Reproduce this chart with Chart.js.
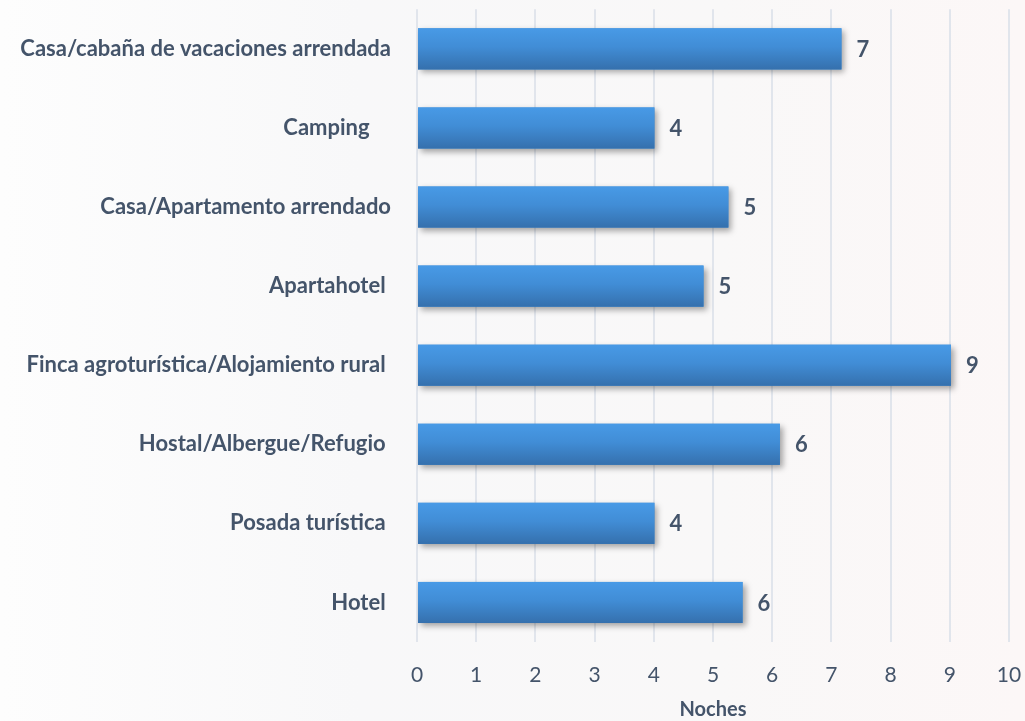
<!DOCTYPE html>
<html>
<head>
<meta charset="utf-8">
<script src="https://cdn.jsdelivr.net/npm/chart.js@4/dist/chart.umd.min.js"></script>
<style>
    html, body { margin: 0; padding: 0; }
    body {
        width: 1025px; height: 721px; overflow: hidden;
        background: linear-gradient(90deg, #fdfdfd 0%, #f8f8f9 35%, #f9f8f8 70%, #fcf7f7 100%);
    }
    #wrap { width: 1025px; height: 721px; position: relative; }
</style>
</head>
<body>
<div id="wrap"><canvas id="nochesChart"></canvas></div>
<script>
const categories = [
    'Casa/cabaña de vacaciones arrendada',
    'Camping    ',
    'Casa/Apartamento arrendado',
    'Apartahotel ',
    'Finca agroturística/Alojamiento rural ',
    'Hostal/Albergue/Refugio ',
    'Posada turística ',
    'Hotel '
];
const nights = [7.17, 4.01, 5.26, 4.84, 9.02, 6.13, 4.01, 5.5];
const xTicks = [0, 1, 2, 3, 4, 5, 6, 7, 8, 9, 10];
const xTitle = 'Noches';

const textColor = '#44546a';
const fontFamily = 'Lato, "Open Sans", sans-serif';

// shadow + vertical gradient on each bar, then the rounded value label
const barStyle = {
    id: 'barStyle',
    beforeDatasetDraw(chart) {
        const ctx = chart.ctx;
        ctx.save();
        ctx.shadowColor = 'rgba(0,0,0,0.35)';
        ctx.shadowBlur = 6;
        ctx.shadowOffsetX = 3;
        ctx.shadowOffsetY = 3;
    },
    afterDatasetDraw(chart) {
        const ctx = chart.ctx;
        ctx.restore();
        const meta = chart.getDatasetMeta(0);
        meta.data.forEach((bar, i) => {
            const top = bar.y - bar.height / 2;
            const g = ctx.createLinearGradient(0, top, 0, top + bar.height);
            g.addColorStop(0, '#489ae6');
            g.addColorStop(0.45, '#418dd6');
            g.addColorStop(1, '#3570ad');
            ctx.fillStyle = g;
            ctx.fillRect(bar.base, top, bar.x - bar.base, bar.height);

            ctx.fillStyle = textColor;
            ctx.font = 'bold 22px ' + fontFamily;
            ctx.textAlign = 'left';
            ctx.textBaseline = 'middle';
            ctx.fillText(String(Math.round(nights[i])), bar.x + 15, bar.y + 1);
        });
    }
};

new Chart(document.getElementById('nochesChart'), {
    type: 'bar',
    data: {
        labels: categories,
        datasets: [{
            data: nights,
            backgroundColor: '#418dd6',
            borderWidth: 0,
            barPercentage: 0.52,
            categoryPercentage: 1.0
        }]
    },
    options: {
        indexAxis: 'y',
        responsive: true,
        maintainAspectRatio: false,
        animation: false,
        layout: { padding: { top: 0, right: 16, left: 0, bottom: 0 } },
        plugins: {
            legend: { display: false },
            tooltip: { enabled: false }
        },
        scales: {
            x: {
                min: 0,
                max: 10,
                afterBuildTicks: (scale) => {
                    scale.ticks = xTicks.map(v => ({ value: v }));
                },
                afterFit: (scale) => { scale.height = 79; },
                border: { display: false },
                // tick marks kept invisible, only used to push the labels down
                grid: { color: '#e1e5ec', lineWidth: 2, drawTicks: true, tickLength: 21, tickColor: 'rgba(0,0,0,0)' },
                ticks: {
                    color: textColor,
                    font: { family: fontFamily, size: 21 },
                    padding: 0
                },
                title: {
                    display: true,
                    text: xTitle,
                    color: textColor,
                    font: { family: fontFamily, size: 20, weight: 'bold', lineHeight: 1.0 },
                    padding: { top: 0, bottom: 1 }
                }
            },
            y: {
                afterFit: (scale) => { scale.width = 417; },
                border: { display: false },
                grid: { color: 'rgba(0,0,0,0)', drawOnChartArea: false, drawTicks: true, tickLength: 26, tickColor: 'rgba(0,0,0,0)' },
                ticks: {
                    color: textColor,
                    font: { family: fontFamily, size: 22, weight: 'bold', lineHeight: 0.85 },
                    padding: 0
                }
            }
        }
    },
    plugins: [barStyle]
});
</script>
</body>
</html>
